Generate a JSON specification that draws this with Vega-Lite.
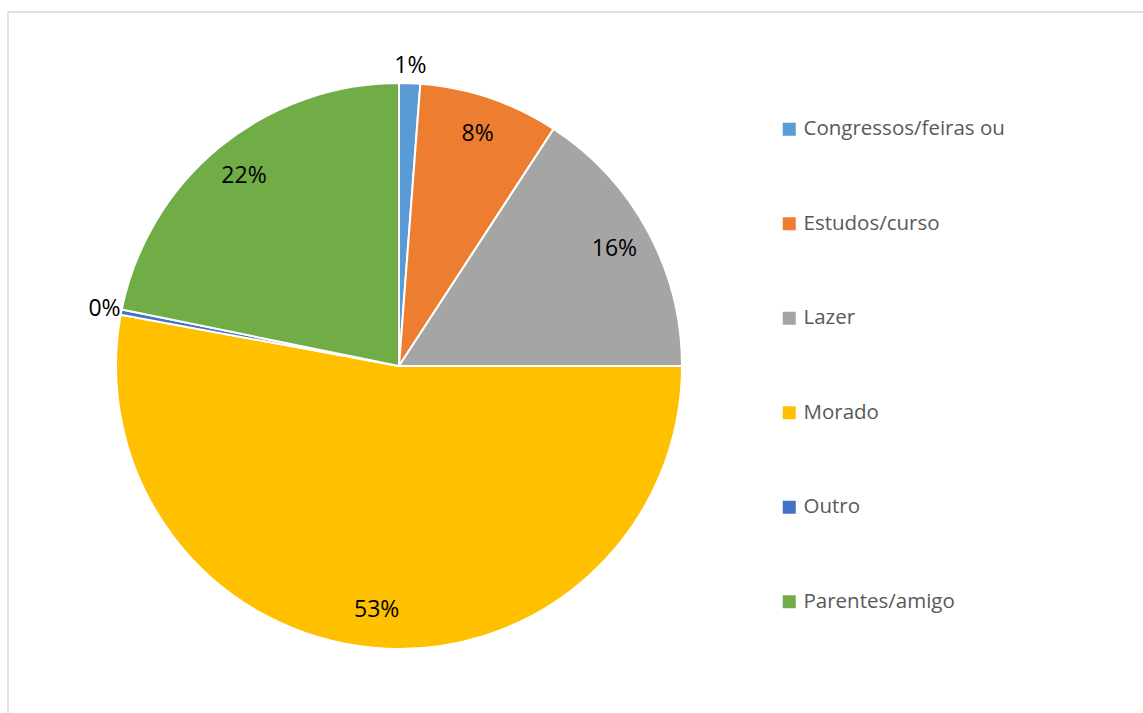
{
  "$schema": "https://vega.github.io/schema/vega-lite/v6.json",
  "width": 1143,
  "height": 713,
  "autosize": {"type": "fit", "contains": "padding"},
  "padding": {"left": 8, "top": 12, "right": -6, "bottom": -6},
  "background": "white",
  "view": {"stroke": "#D9D9D9", "strokeWidth": 1.5},
  "config": {
    "view": {"stroke": "#D9D9D9", "strokeWidth": 1.5},
    "font": "Open Sans"
  },
  "data": {
    "values": [
      {"category": "Congressos/feiras ou", "value": 1.2, "label": "1%"},
      {"category": "Estudos/curso", "value": 8.0, "label": "8%"},
      {"category": "Lazer", "value": 15.8, "label": "16%"},
      {"category": "Morado", "value": 52.9, "label": "53%"},
      {"category": "Outro", "value": 0.3, "label": "0%"},
      {"category": "Parentes/amigo", "value": 21.8, "label": "22%"}
    ]
  },
  "encoding": {
    "theta": {"field": "value", "type": "quantitative", "stack": true},
    "order": {"field": "category", "sort": "ascending"}
  },
  "layer": [
    {
      "mark": {"type": "arc", "outerRadius": 283, "stroke": "white", "strokeWidth": 2, "x": 391, "y": 354},
      "encoding": {
        "color": {
          "field": "category",
          "type": "nominal",
          "sort": ["Congressos/feiras ou", "Estudos/curso", "Lazer", "Morado", "Outro", "Parentes/amigo"],
          "scale": {
            "domain": ["Congressos/feiras ou", "Estudos/curso", "Lazer", "Morado", "Outro", "Parentes/amigo"],
            "range": ["#5B9BD5", "#ED7D31", "#A5A5A5", "#FFC000", "#4472C4", "#70AD47"]
          },
          "legend": {
            "title": null,
            "orient": "none",
            "legendX": 771,
            "legendY": 107,
            "symbolType": "square",
            "symbolSize": 169,
            "symbolStrokeWidth": 0,
            "labelFontSize": 20.5,
            "labelColor": "#595959",
            "labelFont": "Open Sans",
            "labelOffset": 4,
            "rowPadding": 73.5,
            "labelLimit": 400
          }
        }
      }
    },
    {
      "mark": {"type": "text", "fontSize": 23, "color": "#000000", "x": 391, "y": 354, "radius": 245},
      "encoding": {
        "text": {"condition": {"test": "datum.value >= 2", "field": "label"}, "value": ""}
      }
    },
    {
      "mark": {"type": "text", "fontSize": 23, "color": "#000000", "x": 391, "y": 354, "radius": 300},
      "encoding": {
        "text": {"condition": {"test": "datum.value < 2", "field": "label"}, "value": ""}
      }
    }
  ]
}
